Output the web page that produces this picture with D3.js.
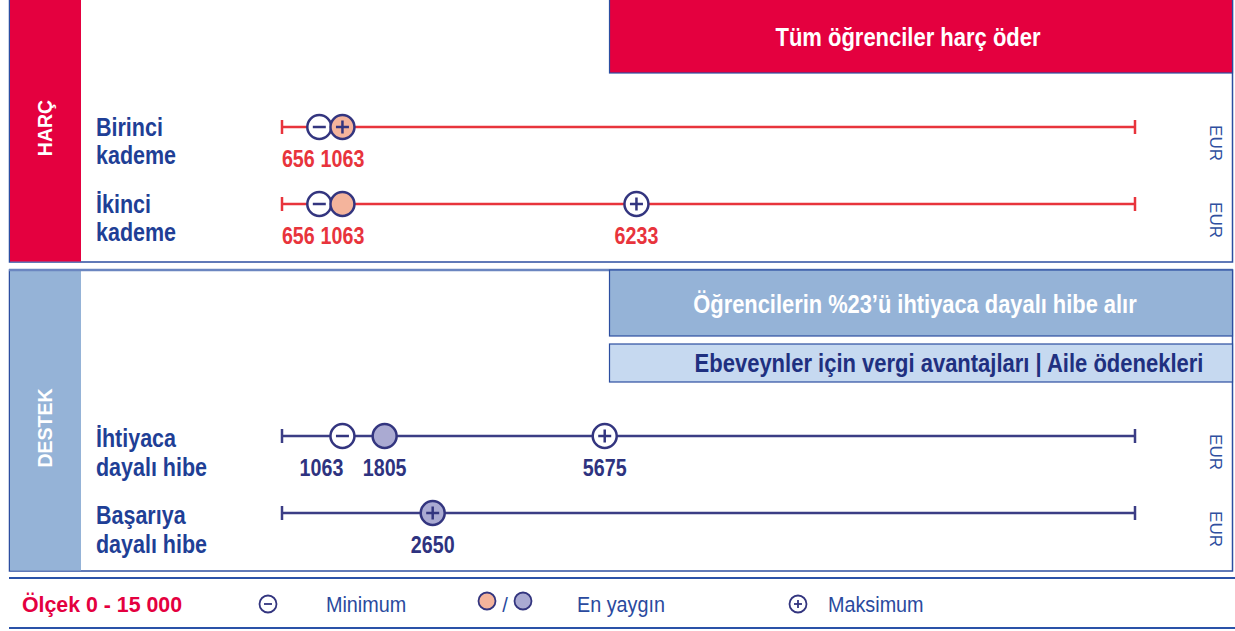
<!DOCTYPE html>
<html>
<head>
<meta charset="utf-8">
<script src="https://cdn.jsdelivr.net/npm/d3@7"></script>
<style>
  body { margin: 0; background: #fff; }
  svg { display: block; }
  text { font-family: "Liberation Sans", Arial, sans-serif; }
</style>
</head>
<body>
<div id="chart"></div>
<script>
// values (EUR, scale 0 - 15 000)
const sections = ["HARÇ", "DESTEK"];
const banners = ["Tüm öğrenciler harç öder", "Öğrencilerin %23’ü ihtiyaca dayalı hibe alır", "Ebeveynler için vergi avantajları | Aile ödenekleri"];
const rowLabels = [["Birinci", "kademe"], ["İkinci", "kademe"], ["İhtiyaca", "dayalı hibe"], ["Başarıya", "dayalı hibe"]];
const rowSection = ["HARÇ", "HARÇ", "DESTEK", "DESTEK"];
const minimum = [656, 656, 1063, null];
const common = [1063, 1063, 1805, 2650];
const maximum = [1063, 6233, 5675, 2650];
const scaleDomain = [0, 15000];
const legendItems = ["Minimum", "En yaygın", "Maksimum"];

const W = 1235, H = 631;
const red = "#e4003f", redLine = "#e8343c", navy = "#33357f", blueText = "#1f3f96",
      destek = "#95b3d7", destekLight = "#c6d9f0", frame = "#2c4ea0";
const fill = { "HARÇ": "#f4b49c", "DESTEK": "#aaaad2" };
const lineCol = { "HARÇ": redLine, "DESTEK": "#3b3d85" };
const numCol = { "HARÇ": redLine, "DESTEK": "#2e3380" };

// no condensed font installed: draw text squeezed horizontally
function narrowText(parent, px, py, k) {
  return parent.append("text").attr("font-weight", "bold")
    .attr("transform", `translate(${px},${py}) scale(${k},1)`);
}

const svg = d3.select("#chart").append("svg").attr("width", W).attr("height", H);

const x = d3.scaleLinear().domain(scaleDomain).range([282, 1135]);
const rowY = [127, 204, 436, 513];

// panels
const panels = [
  { name: "HARÇ", y0: -2, y1: 262, color: red, ty: 128 },
  { name: "DESTEK", y0: 270, y1: 571, color: destek, ty: 428 }
];
panels.forEach(p => {
  svg.append("rect").attr("x", 9.5).attr("y", p.y0).attr("width", 1223).attr("height", p.y1 - p.y0)
    .attr("fill", "#fff").attr("stroke", frame).attr("stroke-width", 1.5);
  svg.append("rect").attr("x", 10).attr("y", p.y0 + 1).attr("width", 71).attr("height", p.y1 - p.y0 - 1.5)
    .attr("fill", p.color);
  svg.append("text")
    .attr("transform", `translate(52,${p.ty}) rotate(-90)`)
    .attr("text-anchor", "middle").attr("fill", "#fff").attr("font-size", 19.5).attr("font-weight", "bold")
    .text(p.name);
});
svg.append("line").attr("x1", 9).attr("x2", 1233).attr("y1", 270).attr("y2", 270)
  .attr("stroke", "#6b86c0").attr("stroke-width", 2.5);

// banners
const bannerBoxes = [
  { y: -2, h: 75, fill: red, text: "#fff", ty: 46, cx: 908, k: 0.88 },
  { y: 270, h: 66, fill: destek, text: "#fff", ty: 313, cx: 915, k: 0.875 },
  { y: 344, h: 38, fill: destekLight, text: "#1f3080", ty: 372, cx: 949, k: 0.88 }
];
banners.forEach((b, i) => {
  const bx = bannerBoxes[i];
  svg.append("rect").attr("x", 609.5).attr("y", bx.y).attr("width", 623).attr("height", bx.h)
    .attr("fill", bx.fill).attr("stroke", frame).attr("stroke-width", 1.2);
  narrowText(svg, bx.cx, bx.ty, bx.k)
    .attr("text-anchor", "middle").attr("font-size", 25).attr("fill", bx.text).text(b);
});

// rows
rowLabels.forEach((lab, i) => {
  const y = rowY[i], sec = rowSection[i];
  const g = svg.append("g");
  const off = sec === "HARÇ" ? [9, 37] : [11, 40];
  lab.forEach((t, j) => {
    narrowText(g, 96, y + off[j], 0.86).attr("font-size", 25).attr("fill", blueText).text(t);
  });

  // scale line with end ticks
  const lc = lineCol[sec];
  g.append("line").attr("x1", x(scaleDomain[0])).attr("x2", x(scaleDomain[1])).attr("y1", y).attr("y2", y)
    .attr("stroke", lc).attr("stroke-width", 2.5);
  scaleDomain.forEach(v => {
    g.append("line").attr("x1", x(v)).attr("x2", x(v)).attr("y1", y - 7).attr("y2", y + 7)
      .attr("stroke", lc).attr("stroke-width", 2.5);
  });

  // markers
  const marks = [];
  if (minimum[i] != null) marks.push({ v: minimum[i], kind: "min" });
  marks.push({ v: common[i], kind: "common", plus: common[i] === maximum[i] });
  if (maximum[i] !== common[i]) marks.push({ v: maximum[i], kind: "max" });

  const r = 12;
  marks.forEach(m => {
    const cx = x(m.v);
    g.append("circle").attr("cx", cx).attr("cy", y).attr("r", r)
      .attr("fill", m.kind === "common" ? fill[sec] : "#fff")
      .attr("stroke", navy).attr("stroke-width", 2.5);
    if (m.kind !== "common" || m.plus) {
      g.append("line").attr("x1", cx - 6.5).attr("x2", cx + 6.5).attr("y1", y).attr("y2", y)
        .attr("stroke", navy).attr("stroke-width", 2.5);
    }
    if (m.kind === "max" || m.plus) {
      g.append("line").attr("x1", cx).attr("x2", cx).attr("y1", y - 6.5).attr("y2", y + 6.5)
        .attr("stroke", navy).attr("stroke-width", 2.5);
    }
  });

  // value labels, the left one nudged when two collide
  const k = 0.82;
  const pos = marks.map(m => x(m.v));
  const labs = marks.map(m => g.append("text").attr("font-weight", "bold").attr("font-size", 24)
      .attr("fill", numCol[sec]).attr("text-anchor", "middle").text(m.v));
  const widths = labs.map(l => l.node().getComputedTextLength() * k);
  for (let j = pos.length - 2; j >= 0; j--) {
    if (pos[j] + widths[j] / 2 + 4 > pos[j + 1] - widths[j + 1] / 2) pos[j] -= 21;
  }
  labs.forEach((l, j) => l.attr("transform", `translate(${pos[j]},${y + 40}) scale(${k},1)`));

  // unit
  g.append("text").attr("font-size", 17).attr("fill", "#2f4fa0")
    .attr("text-anchor", "middle")
    .attr("transform", `translate(1210,${y + 16}) rotate(90)`).text("EUR");
});

// legend
svg.append("line").attr("x1", 9).attr("x2", W).attr("y1", 578).attr("y2", 578).attr("stroke", "#2a52a8").attr("stroke-width", 2);
svg.append("line").attr("x1", 9).attr("x2", W).attr("y1", 628).attr("y2", 628).attr("stroke", "#2a52a8").attr("stroke-width", 2);
narrowText(svg, 22, 612, 0.97).attr("font-size", 22).attr("fill", red)
  .text(`Ölçek ${scaleDomain[0]} - ${d3.format(",")(scaleDomain[1]).replace(",", " ")}`);

const ly = 604, lr = 8.5;
const sym = svg.append("g").attr("stroke", navy).attr("stroke-width", 1.8);
sym.append("circle").attr("cx", 268).attr("cy", ly).attr("r", lr).attr("fill", "#fff");
sym.append("line").attr("x1", 264).attr("x2", 272).attr("y1", ly).attr("y2", ly);
sym.append("circle").attr("cx", 487).attr("cy", 601).attr("r", lr).attr("fill", fill["HARÇ"]);
sym.append("circle").attr("cx", 523).attr("cy", 601).attr("r", lr).attr("fill", fill["DESTEK"]);
sym.append("circle").attr("cx", 798).attr("cy", ly).attr("r", lr).attr("fill", "#fff");
sym.append("line").attr("x1", 794).attr("x2", 802).attr("y1", ly).attr("y2", ly);
sym.append("line").attr("x1", 798).attr("x2", 798).attr("y1", ly - 4).attr("y2", ly + 4);
svg.append("text").attr("x", 505).attr("y", 612).attr("font-size", 20)
  .attr("text-anchor", "middle").attr("fill", "#2a4a9e").text("/");
[326, 577, 828].forEach((lx, i) => {
  svg.append("text").attr("transform", `translate(${lx},612) scale(0.9,1)`).attr("font-size", 22)
    .attr("fill", "#2a4a9e").text(legendItems[i]);
});
</script>
</body>
</html>
